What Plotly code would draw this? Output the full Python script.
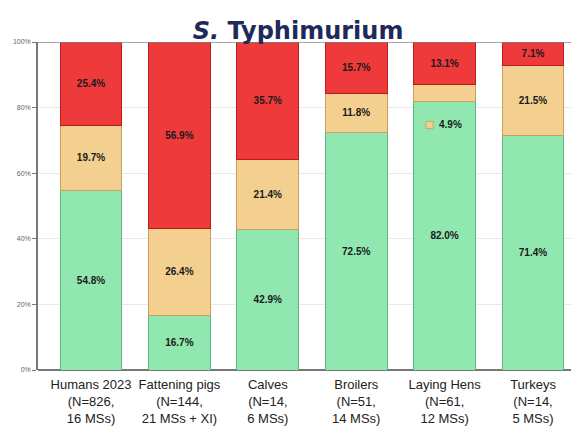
import plotly.graph_objects as go

categories = ["Humans 2023<br>(N=826,<br>16 MSs)", "Fattening pigs<br>(N=144,<br>21 MSs + XI)",
              "Calves<br>(N=14,<br>6 MSs)", "Broilers<br>(N=51,<br>14 MSs)",
              "Laying Hens<br>(N=61,<br>12 MSs)", "Turkeys<br>(N=14,<br>5 MSs)"]
green_vals = [54.8, 16.7, 42.9, 72.5, 82.0, 71.4]
tan_vals = [19.7, 26.4, 21.4, 11.8, 4.9, 21.5]
red_vals = [25.4, 56.9, 35.7, 15.7, 13.1, 7.1]

x = list(range(len(categories)))

def labels(vals, hide=None):
    out = []
    for i, v in enumerate(vals):
        out.append("" if hide is not None and i == hide else f"{v:.1f}%")
    return out

TAN = "#f3cf90"
series = [
    (green_vals, "#90e8b0", "#5fb884", None),
    (tan_vals, TAN, "#c8a060", 4),
    (red_vals, "#ee3a3a", "#b81c1c", None),
]

fig = go.Figure()
for vals, col, lcol, hide in series:
    fig.add_trace(go.Bar(
        x=x, y=vals, width=0.7,
        marker=dict(color=col, line=dict(color=lcol, width=1)),
        text=labels(vals, hide), textposition="inside", insidetextanchor="middle",
        textangle=0,
        textfont=dict(family="Liberation Sans, Arial", size=10, color="#1a1a1a", weight="bold"),
        hoverinfo="skip", showlegend=False,
    ))

# callout label for the small laying-hens segment
label_y = 74.7
fig.add_annotation(
    x=4 + 0.07, y=label_y, xref="x", yref="y",
    text=f"<b>{tan_vals[4]:.1f}%</b>",
    showarrow=False,
    font=dict(family="Liberation Sans, Arial", size=10, color="#1a1a1a"),
)

fig.update_layout(
    width=571, height=418, barmode="stack",
    margin=dict(l=30, r=0, t=34, b=56, autoexpand=False),
    paper_bgcolor="white", plot_bgcolor="white",
    title=dict(text="<i>S.</i> Typhimurium", x=0.508, xanchor="center", y=0.946, yanchor="middle",
               font=dict(family="DejaVu Sans", size=24, color="#1e2a5a", weight="bold")),
    xaxis=dict(tickmode="array", tickvals=x, ticktext=categories, range=[-0.6, 5.52],
               showline=False, ticks="", automargin=False, ticklabelstandoff=5,
               tickfont=dict(family="Liberation Sans, Arial", size=13, color="#222")),
    yaxis=dict(range=[0, 100], tickvals=[0, 20, 40, 60, 80, 100],
               ticktext=["0%", "20%", "40%", "60%", "80%", "100%"], automargin=False,
               showgrid=True, gridcolor="#e8e8e8", gridwidth=1,
               showline=True, linecolor="#777", linewidth=1.5, ticks="outside", ticklen=4,
               tickcolor="#777",
               tickfont=dict(family="Liberation Sans, Arial", size=7, color="#666"),
               zeroline=True, zerolinecolor="#777", zerolinewidth=1.5),
    shapes=[
        dict(type="line", xref="paper", yref="y", x0=0, x1=1, y0=100, y1=100,
             line=dict(color="#888", width=1.5)),
        dict(type="rect", xref="x", yref="y", x0=4 - 0.21, x1=4 - 0.13,
             y0=label_y - 1.1, y1=label_y + 1.1, fillcolor=TAN,
             line=dict(color="#c8a060", width=0.8)),
    ],
)

fig.write_html("out.html")
